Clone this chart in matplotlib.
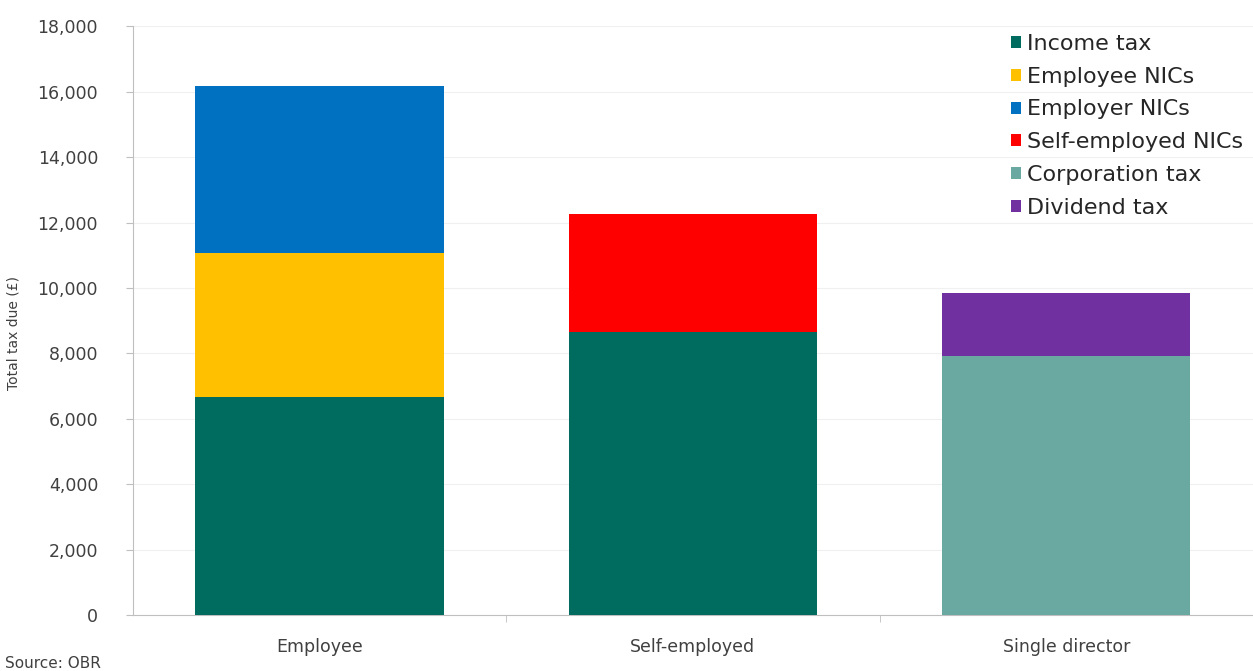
import matplotlib
matplotlib.use('Agg')
import matplotlib.pyplot as plt
import numpy as np

# Data (GBP)
categories = ['Employee', 'Self-employed', 'Single director']
income_tax = [6660, 8650, 0]
employee_nics = [4400, 0, 0]
employer_nics = [5100, 0, 0]
self_employed_nics = [0, 3600, 0]
corporation_tax = [0, 0, 7920]
dividend_tax = [0, 0, 1920]

series = [
    ('Income tax', income_tax, '#006b5f'),
    ('Employee NICs', employee_nics, '#ffc000'),
    ('Employer NICs', employer_nics, '#0070c0'),
    ('Self-employed NICs', self_employed_nics, '#ff0000'),
    ('Corporation tax', corporation_tax, '#6aa9a1'),
    ('Dividend tax', dividend_tax, '#7030a0'),
]

plt.rcParams['font.family'] = ['DejaVu Sans']

fig = plt.figure(figsize=(12.53, 6.71), dpi=100)
ax = fig.add_axes([0.106, 0.083, 0.894, 0.878])

x = np.arange(len(categories))
bottom = np.zeros(len(categories))
for label, vals, color in series:
    vals = np.array(vals, dtype=float)
    ax.bar(x, vals, bottom=bottom, width=0.665, color=color, label=label, zorder=3)
    bottom += vals

ax.set_ylim(0, 18000)
ax.set_xlim(-0.5, 2.5)
ax.set_yticks(np.arange(0, 18001, 2000))
ax.set_yticklabels([f'{v:,}' for v in range(0, 18001, 2000)], fontsize=12.5, color='#404040')
ax.set_xticks(x)
ax.set_xticklabels(categories, fontsize=12.5, color='#404040')
ax.tick_params(axis='x', length=0, pad=16)
ax.set_xticks([0.5, 1.5], minor=True)
ax.tick_params(axis='x', which='minor', length=5, color='#bfbfbf')
ax.tick_params(axis='y', length=5, color='#bfbfbf', pad=20)

ax.grid(axis='y', color='#f0f0f0', linewidth=0.8, zorder=0)
for side in ['top', 'right']:
    ax.spines[side].set_visible(False)
for side in ['left', 'bottom']:
    ax.spines[side].set_color('#bfbfbf')

ax.set_ylabel('Total tax due (£)', fontsize=10, color='#404040')
ax.yaxis.set_label_coords(-0.1, 0.48)

ax.legend(loc='upper right', bbox_to_anchor=(0.993, 0.991), frameon=False, fontsize=16,
          handlelength=0.45, handleheight=0.45, handletextpad=0.25, labelspacing=0.58,
          borderaxespad=0.0, borderpad=0.1, labelcolor='#262626')

fig.text(0.004, 0.004, 'Source: OBR', fontsize=11, color='#404040')

fig.savefig('out.png', dpi=100)
